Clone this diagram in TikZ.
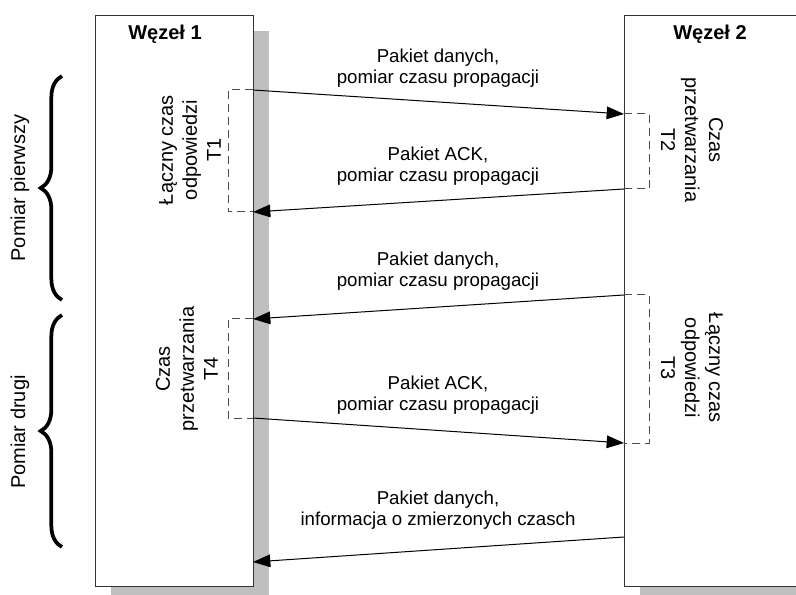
\documentclass[tikz,border=0pt]{standalone}
\usepackage{fontspec}
\setmainfont{Liberation Sans}
\usetikzlibrary{arrows.meta, decorations.pathreplacing, shadows}

\begin{document}
\begin{tikzpicture}[x=0.75pt, y=-0.75pt,
    every node/.style={
    font=\fontsize{14}{16}\selectfont,
    align=center,
    inner sep=0pt},
    wezel/.style={
    draw=black!80,
    line width=0.9pt,
    fill=white,
    anchor=north west,
    minimum height=428.25pt,
    drop shadow={shadow xshift=11.25pt, shadow yshift=-11.25pt,
    fill=black!25, opacity=1}},
    tytul/.style={font=\fontsize{15}{18}\selectfont\bfseries},
    opis/.style={font=\fontsize{15}{18}\selectfont},
    pakiet/.style={line width=0.75pt, -{Triangle[length=13pt, width=9.5pt]}},
    okres/.style={draw=black!70, line width=0.75pt, dash pattern=on 6pt off 3.75pt},
    klamra/.style={decorate, decoration={brace, amplitude=16pt}, line width=2.8pt}]

    \clip (0,0) rectangle (796,595);

    % wezly
    \node[wezel, minimum width=118.5pt] (w1) at (95,15) {};
    \node[wezel, minimum width=150pt] (w2) at (624,15) {};
    \node[tytul] (t1) at (165,34) {Węzeł 1};
    \node[tytul] (t2) at (710,34) {Węzeł 2};

    % punkty na krawedziach
    \coordinate (a1) at (253,90);   \coordinate (b1) at (624,114);
    \coordinate (a2) at (253,212);  \coordinate (b2) at (624,189);
    \coordinate (a3) at (253,319);  \coordinate (b3) at (624,295);
    \coordinate (a4) at (253,418);  \coordinate (b4) at (624,443);
    \coordinate (a5) at (253,562);  \coordinate (b5) at (624,537);

    % pakiety
    \draw[pakiet] (a1) -- (b1);
    \draw[pakiet] (b2) -- (a2);
    \draw[pakiet] (b3) -- (a3);
    \draw[pakiet] (a4) -- (b4);
    \draw[pakiet] (b5) -- (a5);

    \node (p1) at (438,68) {Pakiet danych,\\pomiar czasu propagacji};
    \node (p2) at (438,166) {Pakiet ACK,\\pomiar czasu propagacji};
    \node (p3) at (438,271) {Pakiet danych,\\pomiar czasu propagacji};
    \node (p4) at (438,395) {Pakiet ACK,\\pomiar czasu propagacji};
    \node (p5) at (438,510) {Pakiet danych,\\informacja o zmierzonych czasch};

    % okresy
    \draw[okres] (a1) -- (228,90) -- (228,212) -- (a2);
    \draw[okres] (b1) -- (649,114) -- (649,189) -- (b2);
    \draw[okres] (b3) -- (649,295) -- (649,443) -- (b4);
    \draw[okres] (a3) -- (228,319) -- (228,418) -- (a4);

    \node[opis, rotate=90] (o1) at (190,150) {Łączny czas\\odpowiedzi\\T1};
    \node[opis, rotate=-90] (o2) at (692,140) {Czas\\przetwarzania\\T2};
    \node[opis, rotate=-90] (o3) at (692,368) {Łączny czas\\odpowiedzi\\T3};
    \node[opis, rotate=90] (o4) at (187,369) {Czas\\przetwarzania\\T4};

    % pomiary
    \coordinate (k1a) at (62,300);  \coordinate (k1b) at (62,76);
    \coordinate (k2a) at (62,547);  \coordinate (k2b) at (62,315);
    \draw[klamra] (k1a) -- (k1b);
    \draw[klamra] (k2a) -- (k2b);
    \node[opis, rotate=90] (m1) at (20,188) {Pomiar pierwszy};
    \node[opis, rotate=90] (m2) at (20,432) {Pomiar drugi};
\end{tikzpicture}
\end{document}
